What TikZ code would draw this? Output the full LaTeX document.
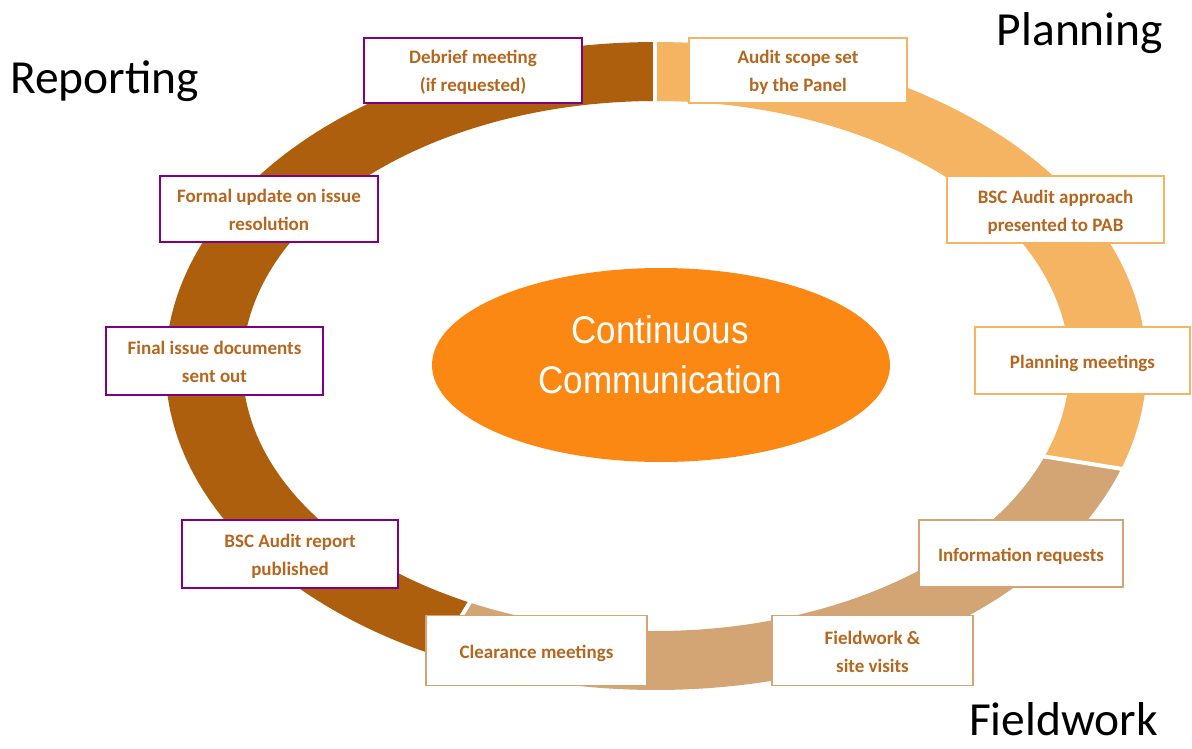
\documentclass[tikz,border=0pt]{standalone}
\usepackage{fontspec}
\setmainfont{Carlito}
\newfontfamily\ccfont[FakeStretch=0.91]{Liberation Sans}
\usetikzlibrary{shapes.geometric}
\definecolor{plan}{HTML}{F5B461}
\definecolor{field}{HTML}{D4A574}
\definecolor{rep}{HTML}{AE5F0D}
\definecolor{centre}{HTML}{FC8814}
\definecolor{txt}{HTML}{B5661F}
\definecolor{purp}{HTML}{800080}
\begin{document}
\begin{tikzpicture}[x=1pt,y=-1pt,
  box/.style={draw, line width=1.8pt, fill=white, text=txt, inner sep=0pt,
    font=\bfseries\fontsize{19}{28}\selectfont, align=center,
    text height=20pt, text depth=5pt},
  two/.style={text height=48pt, text depth=5pt},
  pbox/.style={box, draw=plan},
  fbox/.style={box, draw=field},
  rbox/.style={box, draw=purp},
  phase/.style={font=\fontsize{47.5}{50}\selectfont, text=black, anchor=base, inner sep=0pt},
  cut/.style={draw=white, line width=4pt}]
\useasboundingbox (0,0) rectangle (1192,749);
\def\cx{656}\def\cy{366}\def\A{490.5}\def\B{324}\def\a{413.5}\def\b{265}
% ring segments
\fill[plan] plot[domain=-90:18.5,samples=90] ({\cx+\A*cos(\x)},{\cy+\B*sin(\x)})
  -- plot[domain=20:-90,samples=90] ({\cx+\a*cos(\x)},{\cy+\b*sin(\x)}) -- cycle;
\fill[field] plot[domain=18.5:116.5,samples=90] ({\cx+\A*cos(\x)},{\cy+\B*sin(\x)})
  -- plot[domain=116.7:20,samples=90] ({\cx+\a*cos(\x)},{\cy+\b*sin(\x)}) -- cycle;
\fill[rep] plot[domain=116.5:270,samples=120] ({\cx+\A*cos(\x)},{\cy+\B*sin(\x)})
  -- plot[domain=270:116.7,samples=120] ({\cx+\a*cos(\x)},{\cy+\b*sin(\x)}) -- cycle;
% cuts between segments
\coordinate (c1o) at (655,30);   \coordinate (c1i) at (655,112);
\coordinate (c2o) at (1132,470.5); \coordinate (c2i) at (1032,454.5);
\coordinate (c3o) at (432,664);  \coordinate (c3i) at (475,594);
\draw[cut] (c1o) -- (c1i);
\draw[cut] (c2o) -- (c2i);
\draw[cut] (c3o) -- (c3i);
% centre
\node[ellipse, fill=centre, minimum width=458, minimum height=194, inner sep=0pt] (cc) at (661,365) {};
\node[text=white, align=center, font=\ccfont\fontsize{38.5}{50}\selectfont, inner sep=0pt] (cctext) at (660,355) {Continuous\\Communication};
% boxes
\node[rbox, two, minimum width=218, minimum height=65] (debrief) at (473,70.5) {Debrief meeting\\(if requested)};
\node[pbox, two, minimum width=218, minimum height=65] (scope) at (798,70.5) {Audit scope set\\by the Panel};
\node[pbox, two, minimum width=217, minimum height=67] (approach) at (1055.5,209.5) {BSC Audit approach\\presented to PAB};
\node[pbox, minimum width=215, minimum height=67] (planmeet) at (1082.5,360.5) {Planning meetings};
\node[fbox, minimum width=204, minimum height=67] (inforeq) at (1021,553.5) {Information requests};
\node[fbox, two, minimum width=201, minimum height=70] (fieldwork) at (872.5,650.5) {Fieldwork \&\\site visits};
\node[fbox, minimum width=221, minimum height=70] (clearance) at (536.5,650.5) {Clearance meetings};
\node[rbox, two, minimum width=216, minimum height=68] (report) at (290,554) {BSC Audit report\\published};
\node[rbox, two, minimum width=217, minimum height=68] (final) at (214.5,361) {Final issue documents\\sent out};
\node[rbox, two, minimum width=218, minimum height=66] (formal) at (269,209) {Formal update on issue\\resolution};
% phase labels
\node[phase] (lplan) at (1080,46) {Planning};
\node[phase] (lrep) at (104.5,94) {Reporting};
\node[phase] (lfield) at (1063.5,735) {Fieldwork};
\end{tikzpicture}
\end{document}
